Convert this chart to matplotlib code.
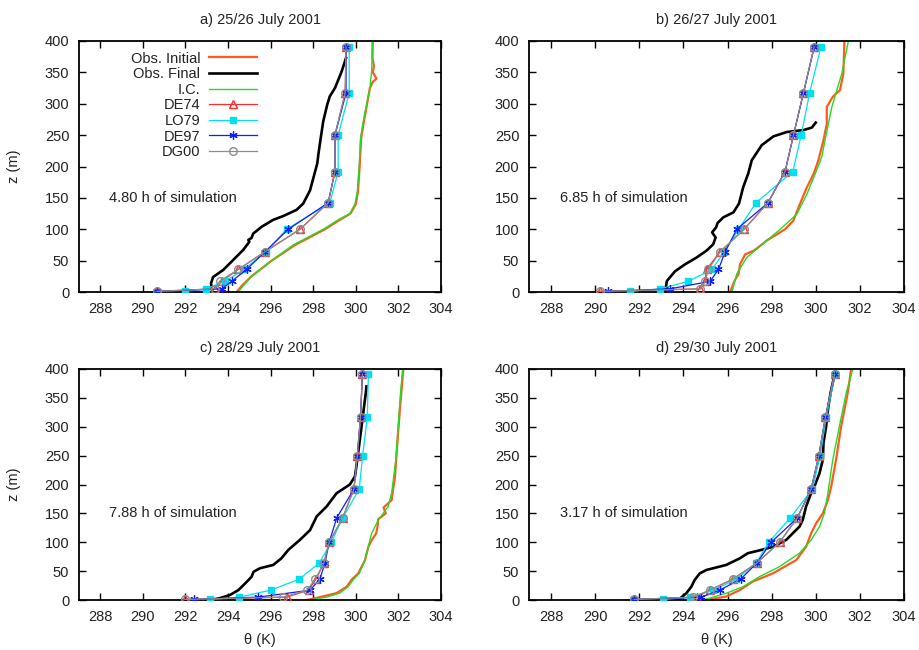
import matplotlib
matplotlib.use("Agg")
import matplotlib.pyplot as plt

plt.rcParams['font.family'] = ['Liberation Sans', 'DejaVu Sans']
FS = 10.5

# ---------------- data ----------------
titles = ["a) 25/26 July 2001", "b) 26/27 July 2001", "c) 28/29 July 2001", "d) 29/30 July 2001"]
sim_hours = ["4.80 h of simulation", "6.85 h of simulation", "7.88 h of simulation", "3.17 h of simulation"]
series_names = ["Obs. Initial", "Obs. Final", "I.C.", "DE74", "LO79", "DE97", "DG00"]
xticks = [288, 290, 292, 294, 296, 298, 300, 302, 304]
yticks = [0, 50, 100, 150, 200, 250, 300, 350, 400]

# model levels (m)
z_lev = [1, 5, 17, 36, 64, 100, 142, 192, 250, 317, 391]

# panel a
a_DE74 = [290.66, 293.38, 293.70, 294.48, 295.73, 297.38, 298.70, 299.02, 299.02, 299.50, 299.54]
a_LO79 = [291.98, 292.96, 293.85, 294.75, 295.78, 296.75, 298.78, 299.17, 299.17, 299.69, 299.69]
a_DE97 = [290.66, 293.70, 294.17, 294.87, 295.73, 296.83, 298.70, 299.02, 299.02, 299.54, 299.54]
a_DG00 = [290.66, 293.38, 293.60, 294.48, 295.73, 297.38, 298.70, 299.02, 299.02, 299.50, 299.54]
a_init_z = [0, 10, 25, 50, 75, 100, 115, 125, 140, 160, 200, 245, 272, 298, 325, 335, 340, 350, 360, 373, 400]
a_init_t = [294.40, 294.65, 295.10, 296.05, 297.15, 298.55, 299.25, 299.75, 300.00, 300.10, 300.18, 300.25,
            300.38, 300.52, 300.66, 300.80, 300.97, 300.80, 300.85, 300.78, 300.80]
a_ic_z = [0, 10, 25, 50, 75, 100, 115, 125, 140, 160, 200, 245, 272, 298, 325, 351, 378, 400]
a_ic_t = [294.48, 294.72, 295.10, 296.05, 297.06, 298.47, 299.17, 299.72, 299.96, 300.07, 300.16, 300.22,
          300.35, 300.50, 300.66, 300.74, 300.77, 300.77]
a_fin_z = [0, 3, 14, 24, 35, 51, 67, 80, 83, 86, 93, 104, 115, 121, 131, 141, 162, 205, 219, 245, 272,
           299, 312, 325, 351, 373]
a_fin_t = [293.24, 293.25, 293.20, 293.30, 293.77, 294.24, 294.71, 295.00, 294.95, 295.10, 295.18, 295.58,
           296.12, 296.59, 297.22, 297.53, 297.85, 298.19, 298.24, 298.35, 298.47, 298.66, 298.78, 299.02,
           299.33, 299.54]

# panel b
b_DE74 = [290.22, 294.76, 294.98, 295.05, 295.66, 296.75, 297.83, 298.61, 298.99, 299.44, 299.93]
b_LO79 = [291.58, 292.94, 294.22, 295.30, 295.85, 296.50, 297.29, 298.96, 299.34, 299.72, 300.24]
b_DE97 = [290.60, 293.39, 295.21, 295.59, 295.89, 296.42, 297.83, 298.61, 298.99, 299.44, 299.93]
b_DG00 = [290.22, 294.76, 294.98, 295.13, 295.66, 296.75, 297.83, 298.61, 298.99, 299.44, 299.93]
b_init_z = [0, 18, 29, 44.5, 60, 66, 82, 100, 114, 135, 167, 188, 210, 242, 268, 295, 311, 322, 348, 400]
b_init_t = [296.12, 296.32, 296.50, 296.57, 296.80, 297.20, 297.78, 298.61, 298.99, 299.22, 299.60, 299.90,
            300.12, 300.35, 300.50, 300.50, 300.77, 301.10, 301.25, 301.30]
b_ic_z = [0, 29, 55, 82, 100, 124, 156, 188, 215, 242, 295, 348, 400]
b_ic_t = [296.20, 296.42, 296.87, 297.78, 298.39, 299.14, 299.60, 299.97, 300.27, 300.42, 300.73, 301.18, 301.48]
b_fin_z = [0, 17.5, 33, 44, 55, 66, 76, 87, 95, 103, 110, 119, 127, 141, 167, 189, 210, 226, 234, 248,
           255, 258, 262, 270]
b_fin_t = [293.17, 293.25, 293.62, 294.07, 294.60, 295.05, 295.35, 295.46, 295.30, 295.48, 295.55, 295.81,
           296.27, 296.52, 296.71, 296.94, 297.10, 297.40, 297.55, 298.08, 298.69, 299.44, 299.82, 300.00]

# panel c
c_DE74 = [291.98, 296.75, 297.78, 298.13, 298.50, 298.75, 299.38, 299.91, 300.07, 300.22, 300.31]
c_LO79 = [293.15, 294.53, 296.00, 297.34, 298.28, 298.85, 299.38, 300.16, 300.32, 300.54, 300.59]
c_DE97 = [292.40, 295.42, 297.85, 298.31, 298.55, 298.75, 299.10, 299.91, 300.07, 300.22, 300.31]
c_DG00 = [291.98, 296.60, 297.70, 298.10, 298.50, 298.75, 299.38, 299.91, 300.07, 300.22, 300.31]
c_init_z = [0, 5, 12, 23, 35, 46, 69, 92, 104, 115, 127, 140, 150, 160, 173, 214, 272, 330, 400]
c_init_t = [297.69, 298.31, 299.10, 299.57, 299.80, 300.11, 300.43, 300.59, 300.75, 300.95, 301.02, 301.05,
            301.41, 301.30, 301.68, 301.84, 301.95, 302.07, 302.23]
c_ic_z = [0, 5, 12, 23, 35, 46, 69, 92, 115, 138, 162, 185, 243, 301, 359, 400]
c_ic_t = [297.85, 298.63, 299.25, 299.64, 299.88, 300.16, 300.43, 300.58, 300.74, 301.05, 301.52, 301.68,
          301.88, 301.99, 302.10, 302.20]
c_fin_z = [0, 3, 8.7, 17, 28.6, 40, 49, 55, 60.7, 72, 86.7, 104, 121, 144.6, 162, 185, 200, 214, 243, 301,
           359, 370]
c_fin_t = [293.15, 293.60, 294.09, 294.48, 294.80, 295.10, 295.20, 295.50, 296.12, 296.50, 296.83, 297.37,
           297.85, 298.16, 298.63, 299.10, 299.72, 299.96, 300.07, 300.27, 300.47, 300.50]

# panel d
d_DE74 = [291.77, 294.60, 295.19, 296.24, 297.33, 298.36, 299.16, 299.79, 300.14, 300.44, 300.85]
d_LO79 = [293.08, 294.29, 295.35, 296.40, 297.30, 297.87, 298.84, 299.85, 300.20, 300.48, 300.88]
d_DE97 = [291.77, 294.81, 295.64, 296.59, 297.33, 297.98, 299.16, 299.79, 300.14, 300.44, 300.85]
d_DG00 = [291.77, 294.44, 295.19, 296.24, 297.33, 298.36, 299.16, 299.79, 300.14, 300.44, 300.85]
d_init_z = [0, 6, 17, 32, 46, 69, 92, 115.6, 133, 150, 173, 196.5, 242.8, 300.6, 358.5, 399]
d_init_t = [295.04, 295.94, 296.55, 297.15, 298.05, 299.11, 299.56, 299.79, 300.02, 300.32, 300.55, 300.70,
            300.92, 301.15, 301.45, 301.60]
d_ic_z = [0, 11.6, 23, 40.5, 57.8, 81, 104, 127, 150, 185, 242.8, 300.6, 358.5, 399]
d_ic_t = [294.89, 295.94, 296.70, 297.45, 298.36, 299.26, 299.79, 300.17, 300.39, 300.55, 300.77, 301.07,
          301.38, 301.67]
d_fin_z = [0, 11.6, 23, 34.7, 46, 52, 60.7, 72, 81, 86.7, 92, 104, 115.6, 127, 138.7, 161.8, 185, 196.5,
           219.7, 242.8, 271.7, 300.6, 329.5, 358.5, 390]
d_fin_t = [293.76, 294.13, 294.36, 294.51, 294.74, 295.04, 295.94, 296.55, 296.92, 297.53, 298.05, 298.66,
           298.96, 299.26, 299.41, 299.56, 299.79, 299.94, 300.17, 300.32, 300.35, 300.47, 300.55, 300.67,
           300.85]

panels = [
    (a_init_t, a_init_z, a_fin_t, a_fin_z, a_ic_t, a_ic_z, a_DE74, a_LO79, a_DE97, a_DG00),
    (b_init_t, b_init_z, b_fin_t, b_fin_z, b_ic_t, b_ic_z, b_DE74, b_LO79, b_DE97, b_DG00),
    (c_init_t, c_init_z, c_fin_t, c_fin_z, c_ic_t, c_ic_z, c_DE74, c_LO79, c_DE97, c_DG00),
    (d_init_t, d_init_z, d_fin_t, d_fin_z, d_ic_t, d_ic_z, d_DE74, d_LO79, d_DE97, d_DG00),
]

# ---------------- styles ----------------
C_INIT = '#ff5a1e'
C_FIN = '#000000'
C_IC = '#22dd22'
C_DE74 = '#ff2a2a'
C_LO79 = '#00e0f0'
C_DE97 = '#0a1eff'
C_DG00 = '#8c8c8c'
ASTER = (6, 2, 0)

fig = plt.figure(figsize=(9.19, 6.5), dpi=100)
W, H = 919.0, 650.0
rects = [
    (79 / W, (H - 292) / H, 362 / W, 251 / H),
    (529 / W, (H - 292) / H, 375 / W, 251 / H),
    (79 / W, (H - 600) / H, 362 / W, 231 / H),
    (529 / W, (H - 600) / H, 375 / W, 231 / H),
]

for i, (rect, data) in enumerate(zip(rects, panels)):
    (it, iz, ft, fz, ct, cz, de74, lo79, de97, dg00) = data
    ax = fig.add_axes(rect)
    ax.plot(it, iz, color=C_INIT, lw=1.6, label=series_names[0], zorder=2)
    ax.plot(ft, fz, color=C_FIN, lw=1.9, label=series_names[1], zorder=2)
    ax.plot(ct, cz, color=C_IC, lw=1.0, label=series_names[2], zorder=2)
    ax.plot(de74, z_lev, color=C_DE74, lw=0.9, marker='^', ms=5.5, mfc='none', mec=C_DE74, mew=1.0,
            label=series_names[3], zorder=3)
    ax.plot(lo79, z_lev, color=C_LO79, lw=0.9, marker='s', ms=5, mfc=C_LO79, mec=C_LO79,
            label=series_names[4], zorder=3)
    ax.plot(de97, z_lev, color=C_DE97, lw=0.9, marker=ASTER, ms=6, mec=C_DE97, mew=0.9,
            label=series_names[5], zorder=4)
    ax.plot(dg00, z_lev, color=C_DG00, lw=0.9, marker='o', ms=5.5, mfc='none', mec=C_DG00, mew=1.0,
            label=series_names[6], zorder=4)

    ax.set_xlim(287, 304)
    ax.set_ylim(0, 400)
    ax.set_xticks(xticks)
    ax.set_yticks(yticks)
    ax.tick_params(direction='in', top=True, right=True, length=5, width=1.0,
                   labelsize=FS, pad=7, colors='black', labelcolor='#222222')
    for sp in ax.spines.values():
        sp.set_linewidth(1.3)
    ax.set_title(titles[i], fontsize=FS, pad=12, color='#222222')
    ax.text(288.4, 150, sim_hours[i], fontsize=FS, ha='left', va='center', color='#222222')
    if i in (0, 2):
        ax.set_ylabel("z (m)", fontsize=FS, color='#222222')
        ax.yaxis.set_label_coords(-58 / 362, 0.5)
    if i in (2, 3):
        ax.set_xlabel("θ (K)", fontsize=FS, color='#222222')
        ax.xaxis.set_label_coords(0.5, -33 / 231)
    if i == 0:
        leg = ax.legend(loc='upper left', bbox_to_anchor=(0.123, 0.987), frameon=False, markerfirst=False,
                        fontsize=FS, handlelength=3.3, handletextpad=0.6, labelspacing=0.11,
                        borderpad=0.3, borderaxespad=0.2)
        for t in leg.get_texts():
            t.set_color('#222222')

fig.savefig("out.png", dpi=100)
